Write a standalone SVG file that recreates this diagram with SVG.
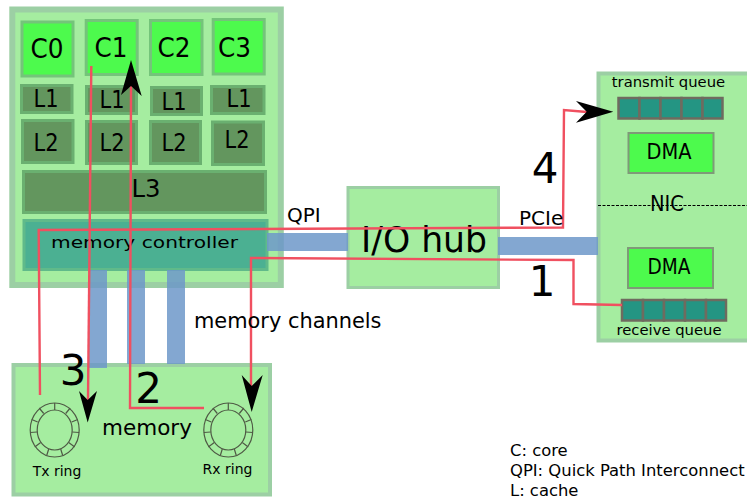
<svg xmlns="http://www.w3.org/2000/svg" width="747" height="500" viewBox="0 0 747 500">
<style>
text{font-family:"DejaVu Sans",sans-serif;fill:#000}
.box{fill:#a5eda0;stroke:#9ccfa4}
.core{fill:#4dfa4d;stroke:#74c47a;stroke-width:3}
.cache{fill:#63965e;stroke:#6ab070;stroke-width:3}
.bus{fill:#6d98c9;opacity:.85}
.cell{fill:#249583;stroke:#6f6b5f;stroke-width:2.5}
.dma{fill:#4dfa4d;stroke:#7f9a78;stroke-width:2}
.flow{fill:none;stroke:#f05060;stroke-width:2.4}
.ring{fill:none;stroke:#4f5a45;stroke-width:1.2}
.c{text-anchor:middle}
</style>
<defs>
<g id="ringShape">
<ellipse class="ring" rx="24.5" ry="27"/>
<ellipse class="ring" rx="17.5" ry="20"/>
<path class="ring" d="M0-20V-27M11-16.500L15.500-22M17-8L23-10.500M17.500 2L24.500 2.500M14 12.500L20 17M6 19L8 25.500M-6 19L-8 25.500M-14 12.500L-20 17M-17.500 2L-24.500 2.500M-17-8L-23-10.500M-11-16.500L-15.500-22"/>
</g>
</defs>
<g id="cpu">
<rect class="box" x="12.300" y="9.500" width="268.500" height="275.500" stroke-width="6"/>
</g>
<g id="c0"><rect class="core" x="22" y="22" width="51" height="54"/><text class="c" x="47" y="58" font-size="27" textLength="33" lengthAdjust="spacingAndGlyphs">C0</text></g>
<g id="c1"><rect class="core" x="86.200" y="20.500" width="51" height="54"/><text class="c" x="111" y="57" font-size="27" textLength="33" lengthAdjust="spacingAndGlyphs">C1</text></g>
<g id="c2"><rect class="core" x="150.500" y="20.500" width="51.500" height="54"/><text class="c" x="174" y="57" font-size="27" textLength="33" lengthAdjust="spacingAndGlyphs">C2</text></g>
<g id="c3"><rect class="core" x="213.200" y="19.500" width="51" height="54.500"/><text class="c" x="234.500" y="57" font-size="27" textLength="33" lengthAdjust="spacingAndGlyphs">C3</text></g>
<g id="l1-0"><rect class="cache" x="21.500" y="85.500" width="50.500" height="27"/><text class="c" x="46" y="107" font-size="24" textLength="25" lengthAdjust="spacingAndGlyphs">L1</text></g>
<g id="l1-1"><rect class="cache" x="86.500" y="86.500" width="50" height="27"/><text class="c" x="112" y="108" font-size="24" textLength="25" lengthAdjust="spacingAndGlyphs">L1</text></g>
<g id="l1-2"><rect class="cache" x="151.500" y="87.500" width="50" height="27"/><text class="c" x="174" y="110" font-size="24" textLength="25" lengthAdjust="spacingAndGlyphs">L1</text></g>
<g id="l1-3"><rect class="cache" x="211.500" y="86.500" width="52.500" height="27"/><text class="c" x="239" y="107" font-size="24" textLength="25" lengthAdjust="spacingAndGlyphs">L1</text></g>
<g id="l2-0"><rect class="cache" x="22.500" y="120.500" width="50.500" height="42"/><text class="c" x="46" y="151" font-size="24" textLength="25" lengthAdjust="spacingAndGlyphs">L2</text></g>
<g id="l2-1"><rect class="cache" x="86.500" y="121.500" width="50" height="42"/><text class="c" x="112" y="151" font-size="24" textLength="25" lengthAdjust="spacingAndGlyphs">L2</text></g>
<g id="l2-2"><rect class="cache" x="150.500" y="121.500" width="50" height="42"/><text class="c" x="174" y="151" font-size="24" textLength="25" lengthAdjust="spacingAndGlyphs">L2</text></g>
<g id="l2-3"><rect class="cache" x="212.500" y="122" width="51" height="42.500"/><text class="c" x="237" y="148" font-size="24" textLength="25" lengthAdjust="spacingAndGlyphs">L2</text></g>
<g id="l3"><rect class="cache" x="23.500" y="171.500" width="242" height="41"/><text class="c" x="146" y="197" font-size="24" textLength="29" lengthAdjust="spacingAndGlyphs">L3</text></g>
<g id="memctrl"><rect fill="#4bb092" stroke="#60ba8a" stroke-width="3" x="24" y="220.500" width="243" height="49"/><text x="51" y="248" font-size="15.500" textLength="187" lengthAdjust="spacingAndGlyphs">memory controller</text></g>
<g id="iohub"><rect class="box" x="348" y="187.500" width="150.500" height="100" stroke-width="3"/><text class="c" x="424" y="252" font-size="36" textLength="126" lengthAdjust="spacingAndGlyphs">I/O hub</text></g>
<g id="memory"><rect class="box" x="13.500" y="365" width="256.500" height="129.500" stroke-width="4"/><text class="c" x="147" y="435" font-size="21.500">memory</text>
<text class="c" x="57" y="476" font-size="14">Tx ring</text><text class="c" x="227.500" y="474" font-size="14">Rx ring</text></g>
<g id="tx-ring"><use href="#ringShape" x="54.700" y="430"/></g>
<g id="rx-ring"><use href="#ringShape" x="228.300" y="430"/></g>
<g id="nic"><rect class="box" x="598.500" y="73.500" width="160" height="267" stroke-width="4"/>
<path d="M598 205.500H747" stroke="#000" stroke-width="1" stroke-dasharray="3 1.500" fill="none"/>
<text class="c" x="667" y="211" font-size="21" textLength="34" lengthAdjust="spacingAndGlyphs">NIC</text>
<text class="c" x="668.500" y="87" font-size="14.800">transmit queue</text>
<text class="c" x="669" y="335" font-size="14.800">receive queue</text></g>
<g id="dma-tx"><rect class="dma" x="628.500" y="133" width="85" height="40"/><text class="c" x="669" y="159" font-size="21" textLength="45" lengthAdjust="spacingAndGlyphs">DMA</text></g>
<g id="dma-rx"><rect class="dma" x="628" y="248" width="85" height="40"/><text class="c" x="669" y="274" font-size="21" textLength="43" lengthAdjust="spacingAndGlyphs">DMA</text></g>
<g id="tx-queue"><rect class="cell" x="618.500" y="98" width="21" height="20.500"/><rect class="cell" x="639.500" y="98" width="21" height="20.500"/><rect class="cell" x="660.500" y="98" width="21" height="20.500"/><rect class="cell" x="681.500" y="98" width="21" height="20.500"/><rect class="cell" x="702.500" y="98" width="20" height="20.500"/></g>
<g id="rx-queue"><rect class="cell" x="622" y="300" width="21" height="20.500"/><rect class="cell" x="643" y="300" width="21" height="20.500"/><rect class="cell" x="664" y="300" width="21" height="20.500"/><rect class="cell" x="685" y="300" width="21" height="20.500"/><rect class="cell" x="706" y="300" width="20" height="20.500"/></g>
<g id="buses">
<rect class="bus" x="267" y="233" width="81" height="18"/>
<rect class="bus" x="498" y="237" width="100" height="18"/>
<rect class="bus" x="89" y="270" width="18" height="98"/>
<rect class="bus" x="127" y="270" width="18" height="94"/>
<rect class="bus" x="167" y="270" width="18" height="94"/>
</g>
<g id="connectors">
<path class="flow" d="M622 305L573.500 304L573.500 260L251 258V386"/>
<path class="flow" d="M204 408L130 408L131 86"/>
<path class="flow" d="M91.300 66L88 400"/>
<path class="flow" d="M40 395L38.700 230L563 227.500L564 110L587 112"/>
<path d="M241.700 375L251.700 386L262.700 375L251.700 412Z"/>
<path d="M121 95L131 86L141.700 96L131 60Z"/>
<path d="M79 391L87.700 400L97 391L87.700 422.500Z"/>
<path d="M576 101L586.700 111.700L576 122.700L613.300 111.700Z"/>
</g>
<g id="labels">
<text x="287" y="222" font-size="20">QPI</text>
<text x="519" y="225" font-size="20">PCIe</text>
<text x="194" y="328" font-size="20.900">memory channels</text>
<text class="c" x="545" y="183" font-size="42">4</text>
<text class="c" x="542" y="296" font-size="42">1</text>
<text class="c" x="73" y="385" font-size="42">3</text>
<text class="c" x="148.500" y="403" font-size="42">2</text>
<text x="510" y="456" font-size="16.400">C: core</text>
<text x="510" y="476" font-size="16.400">QPI: Quick Path Interconnect</text>
<text x="510" y="496" font-size="16.400">L: cache</text>
</g>
</svg>
